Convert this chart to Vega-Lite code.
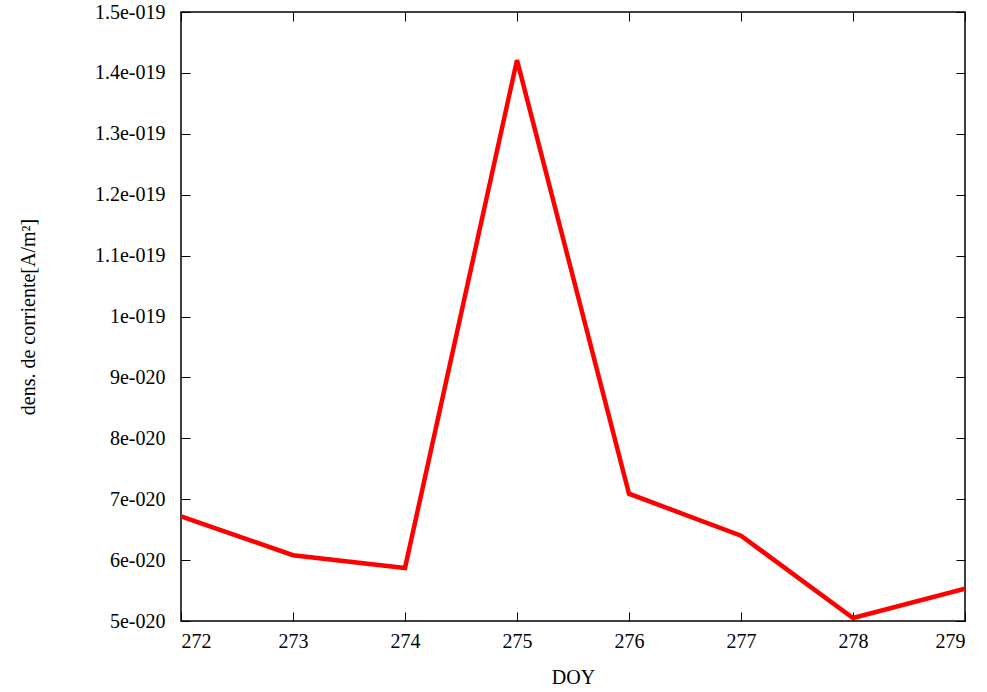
{
  "$schema": "https://vega.github.io/schema/vega-lite/v6.json",
  "width": 784,
  "height": 609,
  "autosize": "none",
  "padding": {"left": 181, "top": 12, "right": 22, "bottom": 71},
  "background": "white",
  "config": {
    "font": "Liberation Serif",
    "view": {"stroke": "black", "strokeWidth": 1.5},
    "axis": {
      "labelFont": "Liberation Serif, Times New Roman, serif",
      "titleFont": "Liberation Serif, Times New Roman, serif",
      "labelFontSize": 20,
      "titleFontSize": 20,
      "titleFontWeight": "normal",
      "labelColor": "black",
      "titleColor": "black",
      "domain": false,
      "grid": false,
      "tickColor": "black",
      "tickWidth": 1,
      "tickSize": -9
    }
  },
  "data": {
    "values": [
      {"doy": 272, "j": 6.72e-20},
      {"doy": 273, "j": 6.08e-20},
      {"doy": 274, "j": 5.87e-20},
      {"doy": 275, "j": 1.421e-19},
      {"doy": 276, "j": 7.09e-20},
      {"doy": 277, "j": 6.40e-20},
      {"doy": 278, "j": 5.05e-20},
      {"doy": 279, "j": 5.53e-20}
    ]
  },
  "layer": [
    {
      "mark": {"type": "line", "color": "#ff0000", "strokeWidth": 4.5, "strokeJoin": "miter", "clip": true},
      "encoding": {
        "x": {
          "field": "doy", "type": "quantitative",
          "scale": {"domain": [272, 279], "nice": false, "zero": false},
          "axis": {"title": "DOY", "values": [272,273,274,275,276,277,278,279], "format": "d", "labelPadding": 19, "titlePadding": 16}
        },
        "y": {
          "field": "j", "type": "quantitative",
          "scale": {"domain": [5e-20, 1.5e-19], "nice": false, "zero": false},
          "axis": {
            "title": "dens. de corriente[A/m²]",
            "values": [5e-20,6e-20,7e-20,8e-20,9e-20,1e-19,1.1e-19,1.2e-19,1.3e-19,1.4e-19,1.5e-19],
            "labelExpr": "datum.value < 9.99e-20 ? round(datum.value*1e20) + 'e-020' : (round(datum.value*1e20)/10) + 'e-019'",
            "labelPadding": 25,
            "titlePadding": 56
          }
        }
      }
    },
    {
      "mark": {"type": "line", "opacity": 0},
      "encoding": {
        "x": {
          "field": "doy", "type": "quantitative",
          "axis": {"orient": "top", "title": null, "labels": false, "values": [272,273,274,275,276,277,278,279]}
        },
        "y": {
          "field": "j", "type": "quantitative",
          "axis": {"orient": "right", "title": null, "labels": false, "values": [5e-20,6e-20,7e-20,8e-20,9e-20,1e-19,1.1e-19,1.2e-19,1.3e-19,1.4e-19,1.5e-19]}
        }
      }
    }
  ],
  "resolve": {"axis": {"x": "independent", "y": "independent"}}
}
